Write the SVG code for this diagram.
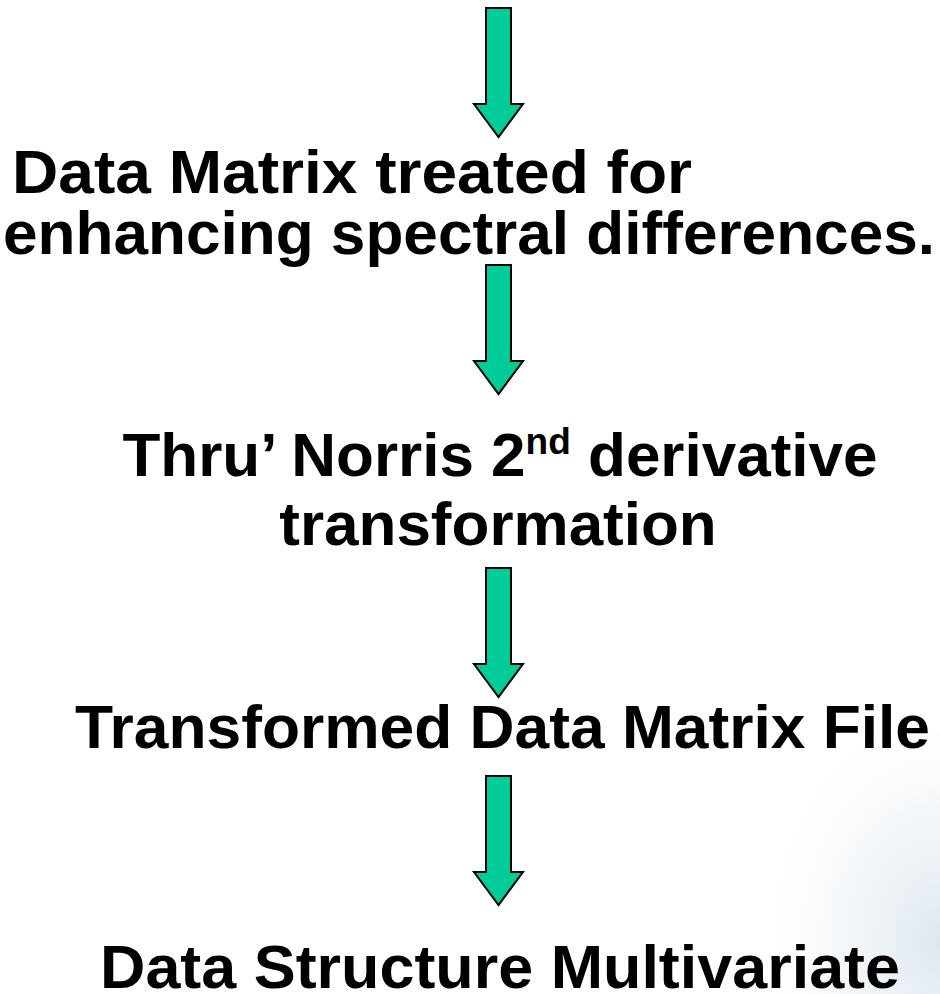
<svg xmlns="http://www.w3.org/2000/svg" width="940" height="994" viewBox="0 0 940 994">
  <style>
    .lbl { font-family: "Liberation Sans", Arial, sans-serif; font-weight: bold; font-size: 62px; fill: #000; }
    .sup { font-size: 37px; }
    .arrow { fill: #00CC99; stroke: #000; stroke-width: 2; stroke-linejoin: miter; }
  </style>
  <defs>
    <!-- down arrow: 25 wide shaft, 49 wide head, 129 tall, origin at top centre -->
    <path id="down" class="arrow" d="M -12.5 0 H 12.5 V 96 H 24.5 L 0 129 L -24.5 96 H -12.5 Z"/>
    <!-- soft bluish haze in the lower right corner of the slide -->
    <radialGradient id="haze" cx="1" cy="0.8" r="0.95" fx="1" fy="0.8">
      <stop offset="0" stop-color="#d8e3ec" stop-opacity="0.85"/>
      <stop offset="0.5" stop-color="#e4ecf2" stop-opacity="0.45"/>
      <stop offset="1" stop-color="#ffffff" stop-opacity="0"/>
    </radialGradient>
  </defs>

  <rect width="940" height="994" fill="#ffffff"/>
  <rect x="740" y="730" width="200" height="264" fill="url(#haze)"/>

  <g id="connectors">
    <use href="#down" x="498.5" y="8"/>
    <use href="#down" x="498.5" y="265"/>
    <use href="#down" x="498.5" y="568"/>
    <use href="#down" x="498.5" y="776"/>
  </g>

  <g id="node-treated">
    <text class="lbl" x="12" y="193" textLength="680" lengthAdjust="spacingAndGlyphs">Data Matrix treated for</text>
    <text class="lbl" x="3" y="254" textLength="932" lengthAdjust="spacingAndGlyphs">enhancing spectral differences.</text>
  </g>

  <g id="node-norris">
    <text class="lbl" x="500" y="476" text-anchor="middle">Thru’ Norris 2<tspan class="sup" dy="-22">nd</tspan><tspan dy="22"> derivative</tspan></text>
    <text class="lbl" x="498" y="545" text-anchor="middle">transformation</text>
  </g>

  <g id="node-transformed">
    <text class="lbl" x="75" y="748" textLength="855" lengthAdjust="spacingAndGlyphs">Transformed Data Matrix File</text>
  </g>

  <g id="node-structure">
    <text class="lbl" x="100" y="988" textLength="800" lengthAdjust="spacingAndGlyphs">Data Structure Multivariate</text>
  </g>
</svg>
